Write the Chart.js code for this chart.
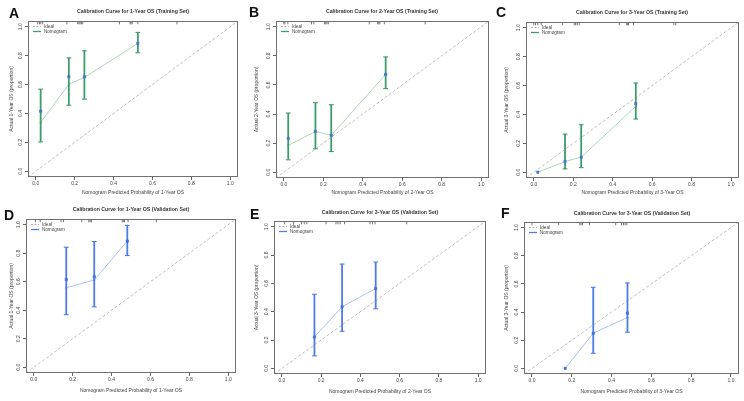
<!DOCTYPE html>
<html>
<head>
<meta charset="utf-8">
<script src="https://cdn.jsdelivr.net/npm/chart.js@4.4.1/dist/chart.umd.min.js"></script>
<style>
body { margin: 0; background: #fff; }
#fig { position: relative; width: 744px; height: 401px; overflow: hidden; font-family: "Liberation Sans", Arial, sans-serif; }
#fig canvas { position: absolute; }
.letter { position: absolute; font-weight: bold; font-size: 14px; line-height: 1; color: #111; }
</style>
</head>
<body>
<div id="fig"></div>
<script>
// Eixos comuns
const tickValues = [0, 0.2, 0.4, 0.6, 0.8, 1.0];
const tickLabels = ['0.0', '0.2', '0.4', '0.6', '0.8', '1.0'];
const legendLabels = ['Ideal', 'Nomogram'];

// A - 1 ano, treino
const predA = [0.025, 0.17, 0.25, 0.525];
const apparentA = [0.337, 0.603, 0.649, 0.885];
const correctedA = [0.416, 0.654, 0.654, 0.885];
const lowerA = [0.203, 0.457, 0.499, 0.82];
const upperA = [0.568, 0.785, 0.834, 0.961];
const rugA = [0.01, 0.019, 0.026, 0.036, 0.16, 0.216, 0.222, 0.228, 0.235, 0.242, 0.43, 0.485, 0.49, 0.496, 0.525, 0.726];

// B - 2 anos, treino
const predB = [0.022, 0.16, 0.24, 0.516];
const apparentB = [0.184, 0.28, 0.253, 0.673];
const correctedB = [0.232, 0.28, 0.253, 0.673];
const lowerB = [0.085, 0.161, 0.142, 0.575];
const upperB = [0.407, 0.478, 0.464, 0.793];
const rugB = [0.0, 0.005, 0.02, 0.14, 0.152, 0.205, 0.212, 0.218, 0.225, 0.433, 0.475, 0.481, 0.487, 0.509, 0.716];

// C - 3 anos, treino
const predC = [0.02, 0.158, 0.24, 0.517];
const apparentC = [0.0, 0.074, 0.104, 0.456];
const correctedC = [0.0, 0.074, 0.104, 0.475];
const lowerC = [null, 0.023, 0.032, 0.368];
const upperC = [null, 0.264, 0.329, 0.618];
const rugC = [0.0, 0.008, 0.02, 0.037, 0.146, 0.205, 0.212, 0.22, 0.23, 0.433, 0.471, 0.476, 0.48, 0.505, 0.71, 0.72];

// D - 1 ano, validação
const predD = [0.167, 0.311, 0.481];
const apparentD = [0.558, 0.612, 0.885];
const correctedD = [0.616, 0.635, 0.885];
const lowerD = [0.369, 0.424, 0.784];
const upperD = [0.842, 0.882, 0.995];
const rugD = [0.009, 0.033, 0.14, 0.153, 0.247, 0.283, 0.29, 0.296, 0.455, 0.461, 0.467, 0.485, 0.63];

// E - 3 anos, validação
const predE = [0.166, 0.307, 0.478];
const apparentE = [0.221, 0.435, 0.563];
const correctedE = [0.221, 0.435, 0.563];
const lowerE = [0.088, 0.261, 0.42];
const upperE = [0.523, 0.736, 0.75];
const rugE = [0.014, 0.06, 0.1, 0.114, 0.127, 0.225, 0.276, 0.286, 0.297, 0.319, 0.449, 0.462, 0.475, 0.636];

// F - 3 anos, validação
const predF = [0.167, 0.308, 0.48];
const apparentF = [0.0, 0.25, 0.362];
const correctedF = [0.0, 0.25, 0.393];
const lowerF = [null, 0.107, 0.257];
const upperF = [null, 0.576, 0.607];
const rugF = [0.0, 0.134, 0.24, 0.247, 0.254, 0.289, 0.421, 0.45, 0.46, 0.468, 0.477];

var green = { bar: '#3d9c6c', line: '#a9d9bb', marker: '#4a6fd6' };
var blue = { bar: '#4f7be6', line: '#aac3f1', marker: '#3f6ee0' };

var panels = [
    { letter: 'A', lx: 9, ly: 6, cx: 0, cy: 0, w: 245, h: 200, L: 28, T: 21, R: 238, B: 177, tx: 133, ty: 12, xPad: 4,
      title: 'Calibration Curve for 1-Year OS (Training Set)', xTitle: 'Nomogram Predicted Probability of 1-Year OS', yTitle: 'Actual 1-Year OS (proportion)',
      pred: predA, apparent: apparentA, corrected: correctedA, lower: lowerA, upper: upperA, rug: rugA, col: green },
    { letter: 'B', lx: 249, ly: 5, cx: 245, cy: 0, w: 250, h: 200, L: 276, T: 21, R: 489, B: 178, tx: 382, ty: 12, xPad: 4,
      title: 'Calibration Curve for 2-Year OS (Training Set)', xTitle: 'Nomogram Predicted Probability of 2-Year OS', yTitle: 'Actual 2-Year OS (proportion)',
      pred: predB, apparent: apparentB, corrected: correctedB, lower: lowerB, upper: upperB, rug: rugB, col: green },
    { letter: 'C', lx: 496, ly: 5, cx: 495, cy: 0, w: 249, h: 200, L: 526, T: 22, R: 740, B: 178, tx: 632, ty: 13, xPad: 4,
      title: 'Calibration Curve for 3-Year OS (Training Set)', xTitle: 'Nomogram Predicted Probability of 3-Year OS', yTitle: 'Actual 3-Year OS (proportion)',
      pred: predC, apparent: apparentC, corrected: correctedC, lower: lowerC, upper: upperC, rug: rugC, col: green },
    { letter: 'D', lx: 4, ly: 208, cx: 0, cy: 197, w: 245, h: 204, L: 26, T: 219, R: 236, B: 373, tx: 131, ty: 210, xPad: 7,
      title: 'Calibration Curve for 1-Year OS (Validation Set)', xTitle: 'Nomogram Predicted Probability of 1-Year OS', yTitle: 'Actual 1-Year OS (proportion)',
      pred: predD, apparent: apparentD, corrected: correctedD, lower: lowerD, upper: upperD, rug: rugD, col: blue },
    { letter: 'E', lx: 250, ly: 207, cx: 245, cy: 197, w: 250, h: 204, L: 274, T: 221, R: 486, B: 374, tx: 380, ty: 213, xPad: 6,
      title: 'Calibration Curve for 3-Year OS (Validation Set)', xTitle: 'Nomogram Predicted Probability of 2-Year OS', yTitle: 'Actual 3-Year OS (proportion)',
      pred: predE, apparent: apparentE, corrected: correctedE, lower: lowerE, upper: upperE, rug: rugE, col: blue },
    { letter: 'F', lx: 501, ly: 206, cx: 495, cy: 197, w: 249, h: 204, L: 524, T: 222, R: 739, B: 374, tx: 632, ty: 214, xPad: 6,
      title: 'Calibration Curve for 3-Year OS (Validation Set)', xTitle: 'Nomogram Predicted Probability of 3-Year OS', yTitle: 'Actual 3-Year OS (proportion)',
      pred: predF, apparent: apparentF, corrected: correctedF, lower: lowerF, upper: upperF, rug: rugF, col: blue }
];

Chart.defaults.font.family = '"Liberation Sans", Arial, sans-serif';
Chart.defaults.color = '#444';

// Moldura, legenda e título de cada painel
var panelDecor = {
    id: 'panelDecor',
    afterDatasetsDraw: function(chart, args, opts) {
        var p = opts.panel;
        var ctx = chart.ctx;
        var a = chart.chartArea;
        ctx.save();
        ctx.strokeStyle = '#707070';
        ctx.lineWidth = 1;
        ctx.strokeRect(Math.round(a.left) + 0.5, Math.round(a.top) + 0.5, Math.round(a.right - a.left) - 1, Math.round(a.bottom - a.top) - 1);

        // legenda
        var lx = a.left + 5, ly = a.top + 5.5;
        ctx.font = '4.6px "Liberation Sans", Arial, sans-serif';
        ctx.textBaseline = 'middle';
        ctx.textAlign = 'left';
        ctx.fillStyle = '#444';
        ctx.lineWidth = 1;
        ctx.strokeStyle = '#b0b0b0';
        ctx.setLineDash([2, 1.5]);
        ctx.beginPath(); ctx.moveTo(lx, ly); ctx.lineTo(lx + 8, ly); ctx.stroke();
        ctx.setLineDash([]);
        ctx.fillText(legendLabels[0], lx + 11, ly);
        ctx.strokeStyle = p.col.bar;
        ctx.lineWidth = 1.3;
        ctx.beginPath(); ctx.moveTo(lx, ly + 5); ctx.lineTo(lx + 8, ly + 5); ctx.stroke();
        ctx.fillText(legendLabels[1], lx + 11, ly + 5);

        // título
        ctx.font = 'bold 5.2px "Liberation Sans", Arial, sans-serif';
        ctx.textAlign = 'center';
        ctx.fillStyle = '#333';
        ctx.fillText(p.title, p.tx - p.cx, p.ty - p.cy);
        ctx.restore();
    }
};

function buildDatasets(p) {
    var ds = [];
    ds.push({
        type: 'line', label: legendLabels[0], order: 5,
        data: [{ x: -0.04, y: -0.04 }, { x: 1.04, y: 1.04 }],
        borderColor: '#b8b8b8', borderDash: [3, 2], borderWidth: 0.9, pointRadius: 0
    });
    ds.push({
        type: 'line', label: legendLabels[1], order: 4,
        data: p.pred.map(function(x, i) { return { x: x, y: p.apparent[i] }; }),
        borderColor: p.col.line, borderWidth: 1, pointRadius: 1, pointBackgroundColor: p.col.bar, pointBorderWidth: 0
    });
    p.pred.forEach(function(x, i) {
        if (p.lower[i] == null) return;
        ds.push({
            type: 'line', label: 'err', order: 3,
            data: [{ x: x, y: p.lower[i] }, { x: x, y: p.upper[i] }],
            borderColor: p.col.bar, borderWidth: 1.8,
            pointStyle: 'line', pointRadius: 2.4, pointBorderColor: p.col.bar, pointBorderWidth: 1.1
        });
    });
    ds.push({
        type: 'scatter', label: 'corrected', order: 1,
        data: p.pred.map(function(x, i) { return { x: x, y: p.corrected[i] }; }),
        pointStyle: 'rect', pointRadius: 1.7, pointBackgroundColor: p.col.marker,
        pointBorderColor: p.col.marker, pointBorderWidth: 0.5
    });
    ds.push({
        type: 'scatter', label: 'rug', order: 2,
        data: p.rug.map(function(x) { return { x: x, y: 1.028 }; }),
        pointStyle: 'line', pointRotation: 90, pointRadius: 1.6, pointBorderColor: '#555', pointBorderWidth: 0.8
    });
    return ds;
}

var fig = document.getElementById('fig');

panels.forEach(function(p) {
    var canvas = document.createElement('canvas');
    canvas.width = p.w;
    canvas.height = p.h;
    canvas.style.left = p.cx + 'px';
    canvas.style.top = p.cy + 'px';
    canvas.style.width = p.w + 'px';
    canvas.style.height = p.h + 'px';
    fig.appendChild(canvas);

    var letter = document.createElement('div');
    letter.className = 'letter';
    letter.textContent = p.letter;
    letter.style.left = p.lx + 'px';
    letter.style.top = p.ly + 'px';
    fig.appendChild(letter);

    new Chart(canvas, {
        type: 'scatter',
        data: { datasets: buildDatasets(p) },
        options: {
            responsive: false,
            animation: false,
            events: [],
            layout: { padding: { left: 0, top: p.T - p.cy, right: p.cx + p.w - p.R, bottom: 0 } },
            plugins: {
                legend: { display: false },
                tooltip: { enabled: false },
                panelDecor: { panel: p }
            },
            scales: {
                x: {
                    type: 'linear', min: -0.04, max: 1.04,
                    afterBuildTicks: function(s) { s.ticks = tickValues.map(function(v) { return { value: v }; }); },
                    afterFit: function(s) { s.height = p.cy + p.h - p.B; },
                    ticks: {
                        callback: function(v, i) { return tickLabels[i]; },
                        font: { size: 5 }, color: '#444', padding: 1, maxRotation: 0, autoSkip: false
                    },
                    grid: { drawOnChartArea: false, tickLength: 3, color: '#666', tickColor: '#666' },
                    border: { display: false },
                    title: { display: true, text: p.xTitle, font: { size: 5 }, color: '#444', padding: { top: 0, bottom: p.xPad } }
                },
                y: {
                    type: 'linear', min: -0.04, max: 1.04,
                    afterBuildTicks: function(s) { s.ticks = tickValues.map(function(v) { return { value: v }; }); },
                    afterFit: function(s) { s.width = p.L - p.cx; },
                    ticks: {
                        callback: function(v, i) { return tickLabels[i]; },
                        font: { size: 5 }, color: '#444', padding: 1, minRotation: 90, maxRotation: 90,
                        crossAlign: 'center', autoSkip: false
                    },
                    grid: { drawOnChartArea: false, tickLength: 3, color: '#666', tickColor: '#666' },
                    border: { display: false },
                    title: { display: true, text: p.yTitle, font: { size: 5 }, color: '#444', padding: { top: 9, bottom: 0 } }
                }
            }
        },
        plugins: [panelDecor]
    });
});
</script>
</body>
</html>
